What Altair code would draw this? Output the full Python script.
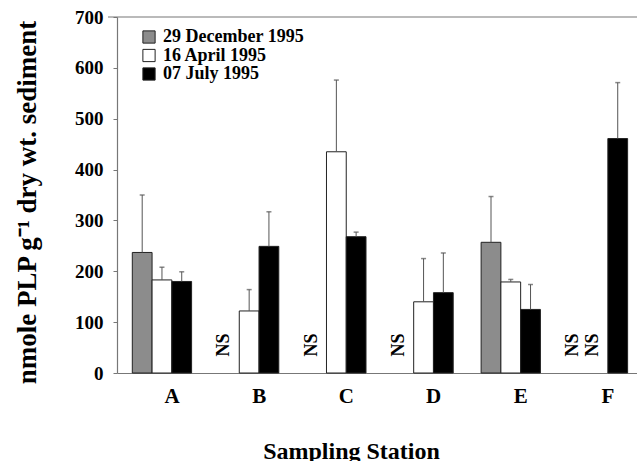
import altair as alt
import pandas as pd

stations = ["A", "B", "C", "D", "E", "F"]
dates = ["29 December 1995", "16 April 1995", "07 July 1995"]
dec_vals = [237, None, None, None, 257, None]
apr_vals = [183, 122, 435, 140, 179, None]
jul_vals = [180, 249, 268, 158, 125, 461]
dec_sd = [113, None, None, None, 90, None]
apr_sd = [25, 42, 141, 85, 5, None]
jul_sd = [19, 68, 9, 78, 49, 110]
colors = ["#8c8c8c", "#ffffff", "#000000"]
y_ticks = [0, 100, 200, 300, 400, 500, 600, 700]
Y_MAX = 700

rows = []
for d, vals, sds in zip(dates, [dec_vals, apr_vals, jul_vals], [dec_sd, apr_sd, jul_sd]):
    for s, v, e in zip(stations, vals, sds):
        rows.append({"station": s, "date": d, "value": v,
                     "top": (v + e) if v is not None else None,
                     "ns": "NS" if v is None else None})
df = pd.DataFrame(rows)
bars_df = df[df["value"].notna()]
ns_df = df[df["value"].isna()]

FONT = "Liberation Serif"

x_enc = alt.X(
    "station:N",
    sort=stations,
    scale=alt.Scale(paddingInner=0.32, paddingOuter=0.1416, align=0.62),
    axis=alt.Axis(
        title="Sampling Station", labelAngle=0, ticks=False, labelOffset=10,
        labelPadding=12, labelFont=FONT, labelFontWeight="bold", labelFontSize=21,
        labelColor="black", domainColor="#777", domainWidth=1.2,
        titleFont=FONT, titleFontWeight="bold", titleFontSize=24, titleColor="black",
        titleX=234, titleY=85, titleBaseline="alphabetic", titleAnchor="start", titleAlign="center",
    ),
)
xo_enc = alt.XOffset("date:N", sort=dates, scale=alt.Scale(domain=dates, paddingInner=0, paddingOuter=0))
y_scale = alt.Scale(domain=[0, Y_MAX], nice=False)

bars = alt.Chart(bars_df).mark_bar(stroke="#222", strokeWidth=1).encode(
    x=x_enc,
    xOffset=xo_enc,
    y=alt.Y(
        "value:Q", scale=y_scale,
        axis=alt.Axis(
            values=y_ticks, grid=False, tickSize=4, tickColor="#777", labelPadding=10,
            labelFont=FONT, labelFontWeight="bold", labelFontSize=19, labelColor="black",
            domainColor="#777", domainWidth=1.2,
            title="nmole PLP g\u207b\u00b9 dry wt. sediment",
            titleFont=FONT, titleFontWeight="bold", titleFontSize=27, titleColor="black",
            titleAngle=270, titleX=-90, titleY=185, titleBaseline="middle", titleAlign="center",
        ),
    ),
    fill=alt.Fill(
        "date:N", sort=dates,
        scale=alt.Scale(domain=dates, range=colors),
        legend=alt.Legend(
            title=None, orient="none", legendX=23, legendY=11, symbolType="square",
            symbolSize=150, symbolStrokeColor="#222", symbolStrokeWidth=1, symbolOpacity=1,
            labelFont=FONT, labelFontWeight="bold", labelFontSize=18, labelColor="black",
            labelOffset=5, rowPadding=0.5, padding=0,
        ),
    ),
)

err = alt.Chart(bars_df).mark_rule(color="#555", strokeWidth=1).encode(
    x=alt.X("station:N", sort=stations), xOffset=xo_enc,
    y=alt.Y("value:Q", scale=y_scale), y2="top:Q",
)
caps = alt.Chart(bars_df).mark_tick(color="#555", size=5, thickness=1.5).encode(
    x=alt.X("station:N", sort=stations), xOffset=xo_enc,
    y=alt.Y("top:Q", scale=y_scale),
)
ns = alt.Chart(ns_df).mark_text(
    angle=270, font=FONT, fontWeight="bold", fontSize=18, color="black",
    baseline="middle", align="center", dy=-5,
).encode(
    x=alt.X("station:N", sort=stations), xOffset=xo_enc,
    y=alt.value(328), text="ns:N",
)
top_line = alt.Chart(pd.DataFrame({"y": [Y_MAX]})).mark_rule(color="#777", strokeWidth=1.2).encode(
    y=alt.Y("y:Q", scale=y_scale), x=alt.value(-9), x2=alt.value(520),
)

chart = alt.layer(bars, err, caps, ns, top_line).properties(
    width=520, height=356,
    autosize=alt.AutoSizeParams(type="none"),
    padding={"left": 117, "top": 17, "right": 0, "bottom": 88},
).configure_view(stroke=None)

chart.save("out.html", embed_options={"renderer": "svg", "actions": False})
